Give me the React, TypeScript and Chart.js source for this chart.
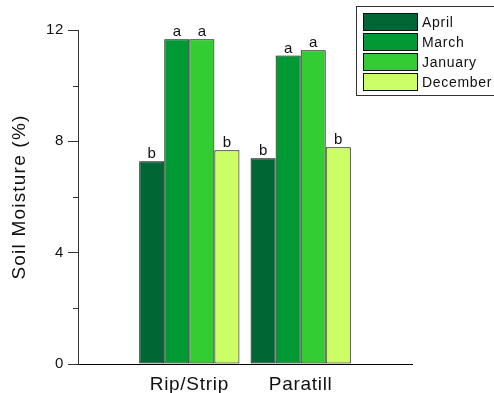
import React, { useEffect, useRef } from 'react';
import { Chart, registerables } from 'chart.js';

Chart.register(...registerables);

// ---- data ----
const categories = ['', 'Rip/Strip', 'Paratill', ''];
const seriesNames = ['April', 'March', 'January', 'December'];
const april = [null, 7.28, 7.39, null];
const march = [null, 11.67, 11.08, null];
const january = [null, 11.67, 11.27, null];
const december = [null, 7.68, 7.79, null];
const aprilLetters = ['', 'b', 'b', ''];
const marchLetters = ['', 'a', 'a', ''];
const januaryLetters = ['', 'a', 'a', ''];
const decemberLetters = ['', 'b', 'b', ''];
const yMajorTicks = [0, 4, 8, 12];
const yMinorTicks = [2, 6, 10];
const yTitle = 'Soil Moisture (%)';

const seriesValues = [april, march, january, december];
const seriesLetters = [aprilLetters, marchLetters, januaryLetters, decemberLetters];
const colors = ['#006633', '#009933', '#33cc33', '#ccff66'];
const FONT = "'Liberation Sans', Arial, Helvetica, sans-serif";

const decorPlugin = {
  id: 'decor',
  beforeDraw(chart: any) {
    (chart.ctx as any).letterSpacing = '0.7px';
  },
  afterDatasetsDraw(chart: any) {
    const ctx = chart.ctx;
    ctx.save();
    (ctx as any).letterSpacing = '0px';
    ctx.font = `15px ${FONT}`;
    ctx.fillStyle = '#111';
    ctx.textAlign = 'center';
    ctx.textBaseline = 'alphabetic';
    chart.data.datasets.forEach((ds: any, i: number) => {
      const meta = chart.getDatasetMeta(i);
      meta.data.forEach((el: any, j: number) => {
        const letter = seriesLetters[i][j];
        if (!letter || ds.data[j] == null) return;
        ctx.fillText(letter, el.x, el.y - 3);
      });
    });
    ctx.restore();
  },
  afterDraw(chart: any) {
    const ctx = chart.ctx;
    const y = chart.scales.y;
    const area = chart.chartArea;
    ctx.save();
    // minor ticks
    ctx.strokeStyle = '#333';
    ctx.lineWidth = 1;
    yMinorTicks.forEach((v) => {
      const py = Math.round(y.getPixelForValue(v)) + 0.5;
      ctx.beginPath();
      ctx.moveTo(area.left - 5, py);
      ctx.lineTo(area.left, py);
      ctx.stroke();
    });
    // y title
    ctx.save();
    ctx.translate(20, (area.top + area.bottom) / 2);
    ctx.rotate(-Math.PI / 2);
    (ctx as any).letterSpacing = '1.2px';
    ctx.font = `19px ${FONT}`;
    ctx.fillStyle = '#111';
    ctx.textAlign = 'center';
    ctx.textBaseline = 'middle';
    ctx.fillText(yTitle, 0, 0);
    ctx.restore();
    // legend
    ctx.strokeStyle = '#333';
    ctx.lineWidth = 1;
    ctx.strokeRect(356.5, 6.5, 160, 89);
    ctx.font = `14px ${FONT}`;
    (ctx as any).letterSpacing = '0.7px';
    ctx.textAlign = 'left';
    ctx.textBaseline = 'alphabetic';
    chart.data.datasets.forEach((ds: any, i: number) => {
      const top = 13 + i * 20;
      ctx.fillStyle = ds.backgroundColor;
      ctx.fillRect(363, top, 55, 18);
      ctx.strokeStyle = '#111';
      ctx.strokeRect(363.5, top + 0.5, 54, 17);
      ctx.fillStyle = '#111';
      ctx.fillText(ds.label, 422, top + 14);
    });
    ctx.restore();
  },
};

export default function App() {
  const ref = useRef<HTMLCanvasElement | null>(null);
  useEffect(() => {
    if (!ref.current) return;
    const chart = new Chart(ref.current, {
      type: 'bar',
      data: {
        labels: categories,
        datasets: seriesNames.map((name, i) => ({
          label: name,
          data: seriesValues[i] as any,
          backgroundColor: colors[i],
          borderColor: '#000',
          borderWidth: 1,
          borderSkipped: false,
          categoryPercentage: 0.9,
          barPercentage: 1,
        })),
      },
      options: {
        animation: false,
        responsive: false,
        layout: { padding: { left: 0, top: 30, right: 82, bottom: 0 } },
        plugins: { legend: { display: false }, tooltip: { enabled: false }, title: { display: false } },
        scales: {
          x: {
            type: 'category',
            offset: false,
            grid: { display: false, drawTicks: false },
            border: { display: true, color: '#000', width: 1 },
            ticks: { font: { size: 19, family: FONT }, color: '#111', padding: 9, maxRotation: 0, autoSkip: false },
            afterFit: (s: any) => { s.height = 29; },
          },
          y: {
            min: 0,
            max: 12,
            grid: {
              display: true,
              drawOnChartArea: false,
              drawTicks: true,
              tickLength: 10,
              tickColor: (c: any) => (yMajorTicks.includes(c.tick?.value) ? '#333' : 'rgba(0,0,0,0)'),
            },
            border: { display: true, color: '#333', width: 1 },
            ticks: {
              stepSize: 2,
              font: { size: 15, family: FONT },
              color: '#111',
              padding: 4,
              callback: (v: any) => (yMajorTicks.includes(Number(v)) ? String(v) : ''),
            },
            afterFit: (s: any) => { s.width = 78; },
          },
        },
      },
      plugins: [decorPlugin],
    });
    return () => chart.destroy();
  }, []);
  return (
    <div style={{ position: 'fixed', left: 0, top: 0, width: 494, height: 393, background: '#fff' }}>
      <canvas ref={ref} width={494} height={393} style={{ display: 'block' }} />
    </div>
  );
}
